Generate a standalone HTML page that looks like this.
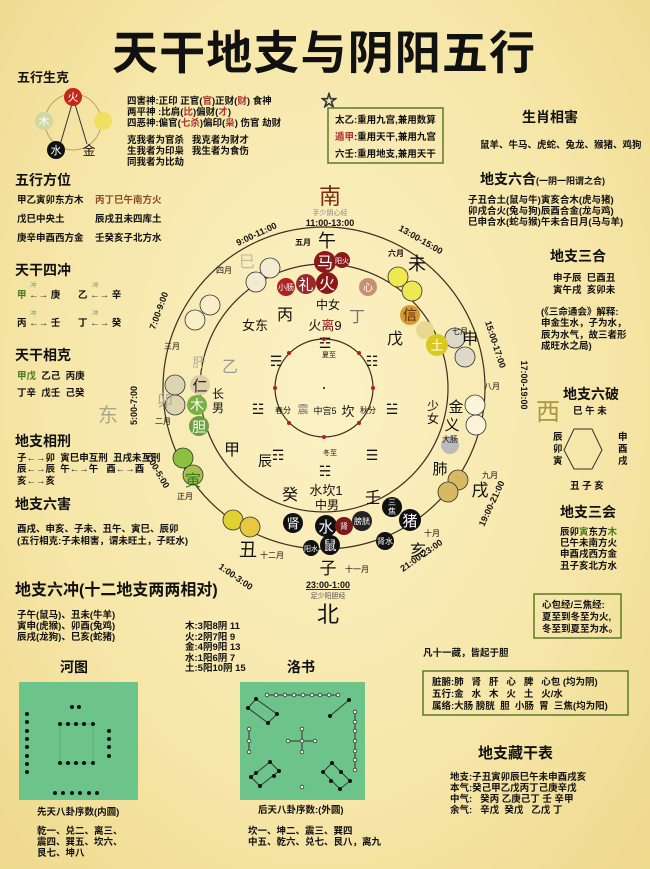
<!DOCTYPE html>
<html><head><meta charset="utf-8"><style>
html,body{margin:0;padding:0}
body{width:650px;height:869px;overflow:hidden;background:radial-gradient(ellipse at 50% 45%,#fbf1c4 0%,#f6e6a8 60%,#eed98c 100%)}
svg{display:block;font-family:"Liberation Sans","Noto Sans CJK SC",sans-serif}
text{white-space:pre}
</style></head><body>
<svg width="650" height="869" viewBox="0 0 650 869" xmlns="http://www.w3.org/2000/svg">
<g fill="#111">
<text x="112" y="69" font-size="46" font-weight="bold" textLength="423">天干地支与阴阳五行</text>
<g font-weight="bold" font-size="13">
<text x="17" y="82">五行生克</text>
<text x="15" y="185" font-size="14">五行方位</text>
<text x="15" y="275" font-size="14">天干四冲</text>
<text x="15" y="360" font-size="14">天干相克</text>
<text x="15" y="446" font-size="14">地支相刑</text>
<text x="15" y="509" font-size="14">地支六害</text>
<text x="15" y="595" font-size="16">地支六冲(十二地支两两相对)</text>
</g>
<circle cx="73" cy="122" r="28" fill="none" stroke="#b8a060" stroke-width="1"/>
<line x1="60" y1="145" x2="72" y2="104" stroke="#333"/><line x1="75" y1="104" x2="87" y2="144" stroke="#333"/>
<circle cx="73" cy="97" r="9" fill="#c2271a"/><text x="73" y="101" font-size="11" fill="#fff" text-anchor="middle">火</text>
<circle cx="44" cy="121" r="9" fill="#cfd8a0"/><text x="44" y="125" font-size="11" fill="#fff" text-anchor="middle">木</text>
<circle cx="103" cy="121" r="9" fill="#efe060"/>
<circle cx="56" cy="150" r="9" fill="#111"/><text x="56" y="154" font-size="11" fill="#fff" text-anchor="middle">水</text>
<text x="89" y="155" font-size="13" text-anchor="middle">金</text>
<g font-size="9.5" font-weight="bold">
<text x="127" y="104">四害神:正印 正官(<tspan fill="#a33">官</tspan>)正财(<tspan fill="#a33">财</tspan>) 食神</text>
<text x="127" y="115">两平神 :比肩(<tspan fill="#a33">比</tspan>)偏财(<tspan fill="#a33">才</tspan>)</text>
<text x="127" y="126">四恶神:偏官(<tspan fill="#a33">七杀</tspan>)偏印(<tspan fill="#a33">枭</tspan>) 伤官 劫财</text>
<text x="127" y="143">克我者为官杀   我克者为财才</text>
<text x="127" y="154">生我者为印枭   我生者为食伤</text>
<text x="127" y="165">同我者为比劫</text>
<text x="17" y="203">甲乙寅卯东方木</text><text x="95" y="203" fill="#8a4a2a">丙丁巳午南方火</text>
<text x="17" y="222">戊巳中央土</text><text x="95" y="222">辰戌丑未四库土</text>
<text x="17" y="241">庚辛申酉西方金</text><text x="95" y="241">壬癸亥子北方水</text>
<text x="17" y="298"><tspan fill="#4a7a20">甲</tspan> ←→ 庚</text><text x="78" y="298">乙 ←→ 辛</text>
<text x="17" y="326">丙 ←→ 壬</text><text x="78" y="326">丁 ←→ 癸</text>
<text x="17" y="379"><tspan fill="#4a7a20">甲戊</tspan>  乙己  丙庚</text>
<text x="17" y="396">丁辛  戊壬  己癸</text>
<text x="17" y="461">子←→卯  寅巳申互刑  丑戌未互刑</text>
<text x="17" y="472">辰←→辰  午←→午   酉←→酉</text>
<text x="17" y="484">亥←→亥</text>
<text x="17" y="532">酉戌、申亥、子未、丑午、寅巳、辰卯</text>
<text x="17" y="544">(五行相克:子未相害，谓未旺土，子旺水)</text>
<text x="17" y="618">子午(鼠马)、丑未(牛羊)</text>
<text x="17" y="629">寅申(虎猴)、卯酉(兔鸡)</text>
<text x="17" y="640">辰戌(龙狗)、巳亥(蛇猪)</text>
<text x="185" y="629">木:3阳8阴 11</text>
<text x="185" y="640">火:2阴7阳 9</text>
<text x="185" y="650">金:4阴9阳 13</text>
<text x="185" y="661">水:1阳6阴 7</text>
<text x="185" y="671">土:5阳10阴 15</text>
</g>
<g font-size="6.5" fill="#6a6">
<text x="30" y="287">冲</text><text x="92" y="287">冲</text><text x="30" y="315">冲</text><text x="92" y="315">冲</text>
</g>
<text x="98" y="422" font-size="20" fill="#aaa88a">东</text>
<text x="536" y="420" font-size="24" fill="#a8983a">西</text>
<text x="321" y="106" font-size="16" fill="none" stroke="#333">☆</text>
<rect x="328" y="108" width="115" height="55" fill="none" stroke="#5a7a2a" stroke-width="1.5"/>
<g font-size="9.5" font-weight="bold">
<text x="335" y="123">太乙:重用九宫,兼用数算</text>
<text x="335" y="140"><tspan fill="#a33">遁甲</tspan>:重用天干,兼用九宫</text>
<text x="335" y="157">六壬:重用地支,兼用天干</text>
<text x="480" y="148">鼠羊、牛马、虎蛇、兔龙、猴猪、鸡狗</text>
<text x="468" y="203">子丑合土(鼠与牛)寅亥合木(虎与猪)</text>
<text x="468" y="214">卯戌合火(兔与狗)辰酉合金(龙与鸡)</text>
<text x="468" y="225">巳申合水(蛇与猴)午未合日月(马与羊)</text>
<text x="553" y="281">申子辰  巳酉丑</text>
<text x="553" y="293">寅午戌  亥卯未</text>
<text x="541" y="315">(《三命通会》解释:</text>
<text x="541" y="326">申金生水，子为水，</text>
<text x="541" y="338">辰为水气，故三者形</text>
<text x="541" y="349">成旺水之局)</text>
<text x="573" y="414">巳 午 未</text>
<text x="553" y="440">辰</text><text x="553" y="452">卯</text><text x="553" y="464">寅</text>
<text x="618" y="440">申</text><text x="618" y="452">酉</text><text x="618" y="464">戌</text>
<text x="570" y="489">丑 子 亥</text>
<text x="560" y="535">辰卯<tspan fill="#4a7a20">寅</tspan>东方<tspan fill="#4a7a20">木</tspan></text>
<text x="560" y="546">巳午未南方火</text>
<text x="560" y="557">申酉戌西方金</text>
<text x="560" y="569">丑子亥北方水</text>
<text x="542" y="608">心包经/三焦经:</text>
<text x="542" y="620">夏至到冬至为火,</text>
<text x="542" y="632">冬至到夏至为水。</text>
<text x="423" y="656">凡十一藏，皆起于胆</text>
<text x="432" y="685">脏腑:肺   肾   肝   心   脾   心包 (均为阴)</text>
<text x="432" y="697">五行:金   水   木   火   土   火/水</text>
<text x="432" y="709">属络:大肠 膀胱  胆  小肠  胃  三焦(均为阳)</text>
<text x="450" y="780">地支:子丑寅卯辰巳午未申酉戌亥</text>
<text x="450" y="791">本气:癸己甲乙戊丙丁己庚辛戊</text>
<text x="450" y="802">中气:   癸丙 乙庚己丁 壬 辛甲</text>
<text x="450" y="813">余气:   辛戊  癸戊   乙戊 丁</text>
</g>
<g font-weight="bold" font-size="14">
<text x="522" y="122">生肖相害</text>
<text x="480" y="184">地支六合<tspan font-size="9">(一阴一阳谓之合)</tspan></text>
<text x="550" y="261">地支三合</text>
<text x="563" y="399">地支六破</text>
<text x="560" y="517">地支三会</text>
<text x="478" y="758" font-size="15">地支藏干表</text>
<text x="60" y="672">河图</text>
<text x="287" y="672">洛书</text>
</g>
<polygon points="574,429 592,429 602,450 592,469 574,469 564,450" fill="none" stroke="#333"/>
<rect x="534" y="594" width="87" height="44" fill="none" stroke="#5a7a2a" stroke-width="1.5"/>
<rect x="423" y="671" width="205" height="44" fill="none" stroke="#5a7a2a" stroke-width="1.5"/>
<rect x="19" y="682" width="119" height="118" fill="#6cc48a"/>
<rect x="60" y="724" width="33" height="39" fill="none" stroke="#4a9a66" stroke-width="0.6"/>
<g fill="#111">
<circle cx="72" cy="707" r="2"/><circle cx="79" cy="707" r="2"/>
<circle cx="60" cy="724" r="2"/><circle cx="68" cy="724" r="2"/><circle cx="76" cy="724" r="2"/><circle cx="84" cy="724" r="2"/><circle cx="93" cy="724" r="2"/>
<circle cx="60" cy="763" r="2"/><circle cx="68" cy="763" r="2"/><circle cx="76" cy="763" r="2"/><circle cx="84" cy="763" r="2"/><circle cx="93" cy="763" r="2"/>
<circle cx="27" cy="714" r="2"/><circle cx="27" cy="722" r="2"/><circle cx="27" cy="731" r="2"/><circle cx="27" cy="739" r="2"/><circle cx="27" cy="747" r="2"/><circle cx="27" cy="756" r="2"/><circle cx="27" cy="764" r="2"/><circle cx="27" cy="772" r="2"/>
<circle cx="109" cy="731" r="2"/><circle cx="109" cy="739" r="2"/><circle cx="109" cy="747" r="2"/><circle cx="109" cy="756" r="2"/>
<circle cx="55" cy="793" r="2"/><circle cx="63" cy="793" r="2"/><circle cx="72" cy="793" r="2"/><circle cx="80" cy="793" r="2"/><circle cx="89" cy="793" r="2"/><circle cx="97" cy="793" r="2"/>
</g>
<rect x="240" y="682" width="125" height="118" fill="#6cc48a"/>
<g stroke="#333" stroke-width="1" fill="none">
<line x1="267" y1="695" x2="338" y2="695"/>
<polygon points="248,708 256,699 277,714 268,723"/>
<line x1="330" y1="716" x2="349" y2="700"/>
<line x1="249" y1="729" x2="249" y2="752"/>
<line x1="288" y1="741" x2="315" y2="741"/><line x1="302" y1="729" x2="302" y2="752"/>
<line x1="355" y1="712" x2="355" y2="770"/>
<polygon points="251,777 270,762 279,771 260,786"/>
<polygon points="323,772 332,763 350,781 340,789"/>
</g>
<g fill="#e8f4e0" stroke="#333" stroke-width="0.8">
<circle cx="267" cy="695" r="1.8"/><circle cx="276" cy="695" r="1.8"/><circle cx="285" cy="695" r="1.8"/><circle cx="294" cy="695" r="1.8"/><circle cx="303" cy="695" r="1.8"/><circle cx="312" cy="695" r="1.8"/><circle cx="320" cy="695" r="1.8"/><circle cx="329" cy="695" r="1.8"/><circle cx="338" cy="695" r="1.8"/>
<circle cx="249" cy="729" r="1.8"/><circle cx="249" cy="741" r="1.8"/><circle cx="249" cy="752" r="1.8"/>
<circle cx="288" cy="741" r="1.8"/><circle cx="302" cy="741" r="1.8"/><circle cx="315" cy="741" r="1.8"/><circle cx="302" cy="729" r="1.8"/><circle cx="302" cy="752" r="1.8"/>
<circle cx="355" cy="712" r="1.8"/><circle cx="355" cy="722" r="1.8"/><circle cx="355" cy="731" r="1.8"/><circle cx="355" cy="741" r="1.8"/><circle cx="355" cy="751" r="1.8"/><circle cx="355" cy="760" r="1.8"/><circle cx="355" cy="770" r="1.8"/>
<circle cx="302" cy="787" r="1.8"/>
</g>
<g fill="#111">
<circle cx="248" cy="708" r="2"/><circle cx="256" cy="699" r="2"/><circle cx="277" cy="714" r="2"/><circle cx="268" cy="723" r="2"/>
<circle cx="330" cy="716" r="2"/><circle cx="349" cy="700" r="2"/>
<circle cx="251" cy="777" r="2"/><circle cx="270" cy="762" r="2"/><circle cx="279" cy="771" r="2"/><circle cx="260" cy="786" r="2"/><circle cx="256" cy="773" r="2"/><circle cx="274" cy="776" r="2"/>
<circle cx="323" cy="772" r="2"/><circle cx="332" cy="763" r="2"/><circle cx="350" cy="781" r="2"/><circle cx="340" cy="789" r="2"/><circle cx="341" cy="772" r="2"/><circle cx="331" cy="781" r="2"/>
</g>
<g font-size="9.5" font-weight="bold">
<text x="37" y="815">先天八卦序数(内圆)</text>
<text x="37" y="834">乾一、兑二、离三、</text>
<text x="37" y="845">震四、巽五、坎六、</text>
<text x="37" y="856">艮七、坤八</text>
<text x="258" y="813">后天八卦序数:(外圆)</text>
<text x="248" y="834">坎一、坤二、震三、巽四</text>
<text x="248" y="845">中五、乾六、兑七、艮八，离九</text>
</g>
<g fill="none" stroke="#3a3020" stroke-width="1.2">
<circle cx="324" cy="388" r="161"/><circle cx="324" cy="388" r="124"/><circle cx="324" cy="388" r="49"/>
</g>
<g stroke="#333" stroke-width="0.8">
<circle cx="256" cy="282" r="10" fill="#f4ecd0"/><circle cx="270" cy="268" r="10" fill="#f4ecd0"/>
<circle cx="195" cy="320" r="10" fill="#f8eec8"/><circle cx="210" cy="305" r="10" fill="#f8eec8"/>
<circle cx="175" cy="385" r="10" fill="#ddd4b0"/><circle cx="175" cy="405" r="10" fill="#ddd4b0"/>
<circle cx="183" cy="458" r="10" fill="#8cc040"/><circle cx="193" cy="475" r="10" fill="#a8c050"/>
<circle cx="233" cy="520" r="10" fill="#e0d030"/><circle cx="250" cy="527" r="10" fill="#e8c840"/>
<circle cx="398" cy="277" r="10" fill="#f0e850"/><circle cx="412" cy="291" r="10" fill="#f0e850"/>
<circle cx="455" cy="338" r="10" fill="#ddd8c8"/><circle cx="465" cy="357" r="10" fill="#ddd8c8"/>
<circle cx="475" cy="405" r="10" fill="#fbf4d8"/><circle cx="476" cy="425" r="10" fill="#fbf4d8"/>
<circle cx="458" cy="480" r="10" fill="#d8b860"/><circle cx="448" cy="492" r="10" fill="#d8b860"/>
</g>
<circle cx="325" cy="262" r="11" fill="#8a1a1a"/><circle cx="342" cy="260" r="8" fill="#8a1a1a"/>
<circle cx="306" cy="284" r="10" fill="#9a2a2a"/><circle cx="327" cy="283" r="11" fill="#8a1a1a"/><circle cx="286" cy="287" r="9" fill="#a22"/>
<circle cx="368" cy="287" r="9" fill="#c89070"/>
<circle cx="410" cy="315" r="10" fill="#d89a30"/><circle cx="425" cy="330" r="9" fill="#e8d890"/><circle cx="437" cy="345" r="11" fill="#d8c820"/>
<circle cx="200" cy="385" r="10" fill="#ddd0a8"/><circle cx="197" cy="405" r="10" fill="#7ab040"/><circle cx="199" cy="426" r="10" fill="#6aa040"/>
<circle cx="450" cy="445" r="9" fill="#bbb"/>
<circle cx="410" cy="520" r="11" fill="#111"/><circle cx="392" cy="507" r="10" fill="#111"/><circle cx="362" cy="521" r="10" fill="#222"/><circle cx="385" cy="541" r="9" fill="#111"/>
<circle cx="326" cy="526" r="11" fill="#111"/><circle cx="344" cy="526" r="9" fill="#7a1a1a"/><circle cx="330" cy="545" r="10" fill="#111"/><circle cx="311" cy="548" r="8" fill="#111"/>
<circle cx="293" cy="523" r="10" fill="#111"/>
<g fill="#fff" text-anchor="middle">
<text x="325" y="268" font-size="16">马</text><text x="342" y="263" font-size="7">阳火</text>
<text x="306" y="290" font-size="15">礼</text><text x="327" y="289" font-size="16">火</text><text x="286" y="290" font-size="8">小肠</text>
<text x="368" y="291" font-size="10">心</text><text x="410" y="320" font-size="14" fill="#5a2a00">信</text><text x="437" y="350" font-size="13">土</text>
<text x="200" y="391" font-size="15" fill="#222">仁</text><text x="197" y="410" font-size="14">木</text><text x="199" y="432" font-size="14">胆</text>
<text x="410" y="526" font-size="15">猪</text><text x="392" y="505" font-size="8">三</text><text x="392" y="514" font-size="8">焦</text>
<text x="362" y="524" font-size="8">膀胱</text><text x="385" y="544" font-size="8">肾水</text>
<text x="326" y="532" font-size="15">水</text><text x="344" y="529" font-size="8">肾</text><text x="330" y="550" font-size="13">鼠</text><text x="311" y="551" font-size="7">阳水</text>
<text x="293" y="528" font-size="13">肾</text>
</g>
<g text-anchor="middle">
<text x="330" y="204" font-size="22" fill="#7a2a10">南</text>
<text x="330" y="215" font-size="7" fill="#888">手少阴心经</text>
<text x="330" y="226" font-size="9" font-weight="bold">11:00-13:00</text>
<text x="303" y="245" font-size="8" font-weight="bold">五月</text><text x="327" y="247" font-size="18">午</text>
<text x="328" y="309" font-size="12">中女</text><text x="325" y="330" font-size="13">火<tspan fill="#8a1a1a">离</tspan>9</text>
<text x="325" y="348" font-size="14">☲</text>
<text x="285" y="320" font-size="16">丙</text><text x="357" y="322" font-size="16" fill="#777">丁</text><text x="395" y="344" font-size="16">戊</text>
<text x="255" y="330" font-size="13">女东</text>
<text x="417" y="270" font-size="18">未</text><text x="396" y="256" font-size="8" font-weight="bold">六月</text>
<text x="470" y="344" font-size="16">申</text>
<text x="456" y="412" font-size="15">金</text><text x="452" y="430" font-size="15">义</text><text x="450" y="442" font-size="8">大肠</text>
<text x="433" y="410" font-size="12">少</text><text x="433" y="423" font-size="12">女</text>
<text x="440" y="474" font-size="15">肺</text>
<text x="480" y="496" font-size="17">戌</text>
<text x="418" y="556" font-size="16">亥</text><text x="432" y="536" font-size="8">十月</text>
<text x="328" y="574" font-size="17">子</text><text x="357" y="572" font-size="8">十一月</text>
<text x="328" y="588" font-size="9" font-weight="bold" text-decoration="underline">23:00-1:00</text>
<text x="328" y="598" font-size="7" fill="#555">足少阳胆经</text>
<text x="328" y="622" font-size="22">北</text>
<text x="290" y="500" font-size="16">癸</text><text x="373" y="503" font-size="16">壬</text>
<text x="325" y="476" font-size="14">☵</text>
<text x="326" y="495" font-size="13">水坎1</text><text x="327" y="509" font-size="12">中男</text>
<text x="248" y="556" font-size="18">丑</text><text x="272" y="558" font-size="8">十二月</text>
<text x="193" y="486" font-size="16" fill="#3a7a20">寅</text>
<text x="165" y="406" font-size="16" fill="#b0a890">卯</text><text x="163" y="424" font-size="8">二月</text>
<text x="199" y="367" font-size="13" fill="#aaa">肝</text>
<text x="218" y="398" font-size="12">长</text><text x="218" y="412" font-size="12">男</text>
<text x="230" y="372" font-size="16" fill="#999">乙</text><text x="232" y="455" font-size="16">甲</text>
<text x="172" y="349" font-size="8">三月</text><text x="224" y="273" font-size="8">四月</text>
<text x="247" y="267" font-size="16" fill="#bba">巳</text>
<text x="265" y="466" font-size="14">辰</text><text x="492" y="389" font-size="8">八月</text>
<text x="460" y="334" font-size="8">七月</text><text x="490" y="478" font-size="8">九月</text><text x="185" y="499" font-size="8">正月</text>
<text x="276" y="366" font-size="14">☴</text><text x="372" y="366" font-size="14">☷</text>
<text x="258" y="414" font-size="14">☳</text><text x="392" y="414" font-size="14">☱</text>
<text x="278" y="460" font-size="14">☶</text><text x="372" y="460" font-size="14">☰</text>
<text x="325" y="414" font-size="9">中宫5</text><text x="348" y="416" font-size="13">坎</text>
<text x="283" y="413" font-size="8">春分</text><text x="368" y="413" font-size="8">秋分</text>
<text x="329" y="357" font-size="7">夏至</text><text x="330" y="455" font-size="7">冬至</text>
<text x="303" y="413" font-size="11" fill="#777">震</text>
</g>
<g fill="#b02020"><circle cx="324" cy="339" r="2"/><circle cx="275" cy="388" r="2"/><circle cx="373" cy="388" r="2"/><circle cx="324" cy="437" r="2"/><circle cx="289" cy="353" r="2"/><circle cx="359" cy="423" r="2"/><circle cx="289" cy="423" r="2"/><circle cx="359" cy="353" r="2"/></g>
<circle cx="324" cy="388" r="1" fill="#111"/>
<g font-size="9" font-weight="bold">
<text transform="translate(238,246) rotate(-25)">9:00-11:00</text>
<text transform="translate(398,230) rotate(30)">13:00-15:00</text>
<text transform="translate(485,322) rotate(72)">15:00-17:00</text>
<text transform="translate(521,385) rotate(90)" text-anchor="middle">17:00-19:00</text>
<text transform="translate(484,527) rotate(-65)">19:00-21:00</text>
<text transform="translate(403,572) rotate(-35)">21:00-23:00</text>
<text transform="translate(218,568) rotate(35)">1:00-3:00</text>
<text transform="translate(145,455) rotate(60)">3:00-5:00</text>
<text transform="translate(137,425) rotate(-90)">5:00-7:00</text>
<text transform="translate(155,330) rotate(-70)">7:00-9:00</text>
</g>
</g>
</svg>
</body></html>
